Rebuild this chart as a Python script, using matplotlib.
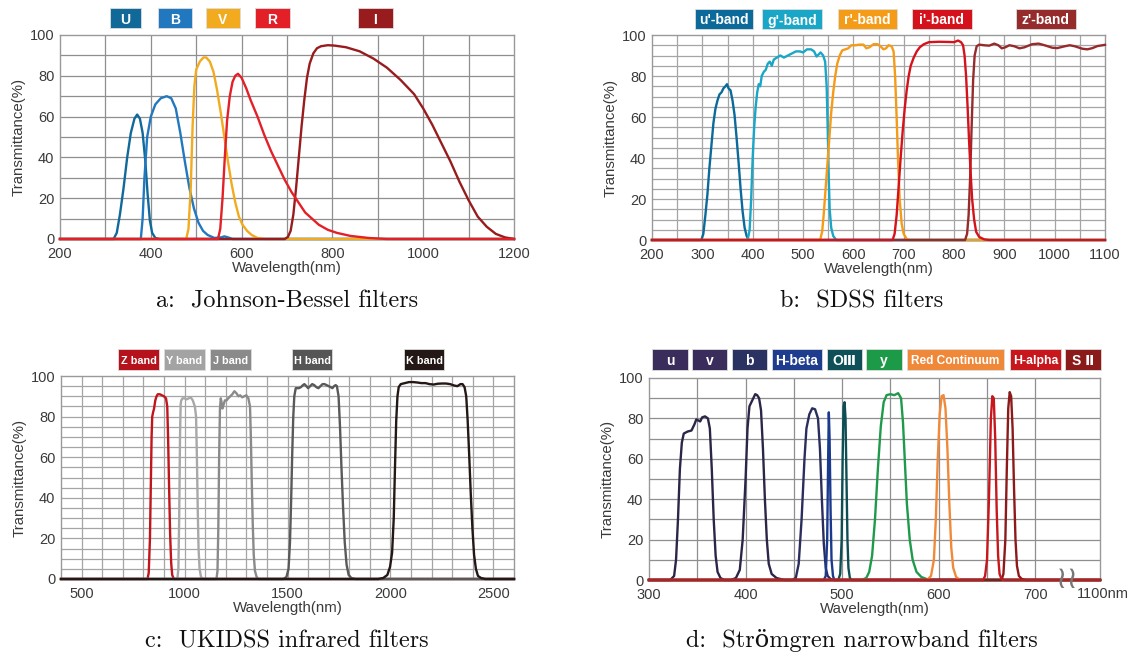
import matplotlib
matplotlib.use("Agg")
import matplotlib.pyplot as plt
from matplotlib.patches import Rectangle

# ---------------- DATA ----------------
# Panel a: Johnson-Bessel
a_names = ["U", "B", "V", "R", "I"]
a_U_wl = [200, 318, 325, 332, 340, 348, 356, 364, 370, 376, 382, 388, 393, 398, 403, 410, 420, 1200]
a_U_t = [0, 0, 3, 12, 25, 40, 52, 59, 61, 59, 52, 38, 22, 9, 3, 0.5, 0, 0]
a_B_wl = [200, 378, 382, 386, 392, 400, 410, 422, 435, 445, 455, 465, 475, 485, 495, 505, 515, 525, 540, 555, 562, 570, 580, 1200]
a_B_t = [0, 0, 10, 30, 50, 60, 66, 69, 70, 69, 64, 52, 38, 25, 15, 8, 4, 2, 0.5, 0.8, 1.3, 0.8, 0, 0]
a_V_wl = [200, 478, 483, 488, 492, 496, 500, 508, 516, 522, 530, 538, 546, 554, 562, 570, 578, 586, 594, 602, 612, 622, 635, 650, 1200]
a_V_t = [0, 0, 5, 25, 55, 75, 83, 87, 89, 89, 87, 82, 73, 62, 50, 38, 27, 18, 11, 7, 4, 2, 0.5, 0, 0]
a_R_wl = [200, 548, 553, 558, 563, 568, 574, 580, 586, 592, 600, 610, 620, 635, 650, 665, 680, 695, 710, 725, 740, 755, 770, 790, 810, 840, 880, 920, 1200]
a_R_t = [0, 0, 5, 20, 40, 58, 70, 77, 80, 81, 79, 74, 68, 60, 51, 43, 36, 29, 23, 18, 13, 10, 7, 4.5, 3, 1.5, 0.5, 0, 0]
a_I_wl = [200, 695, 702, 708, 714, 720, 726, 732, 738, 744, 750, 758, 766, 775, 790, 805, 830, 860, 890, 920, 950, 980, 1000, 1020, 1040, 1060, 1080, 1100, 1120, 1140, 1160, 1180, 1200]
a_I_t = [0, 0, 1, 4, 12, 25, 40, 55, 68, 79, 86, 91, 93.5, 94.5, 95, 94.8, 94, 92, 88.5, 84, 78, 71, 64, 56, 47, 38, 28, 19, 11, 6, 2.5, 0.8, 0]

# Panel b: SDSS
b_names = ["u'-band", "g'-band", "r'-band", "i'-band", "z'-band"]
b_u_wl = [200, 298, 302, 306, 310, 314, 318, 322, 326, 330, 334, 338, 342, 346, 349, 352, 356, 360, 364, 368, 372, 376, 380, 384, 388, 392, 1100]
b_u_t = [0, 0, 3, 12, 22, 35, 46, 57, 64, 68, 71, 72, 74, 75, 76, 74, 73, 68, 61, 50, 38, 25, 14, 6, 2, 0, 0]
b_g_wl = [200, 390, 394, 397, 400, 403, 406, 409, 412, 415, 418, 422, 426, 430, 434, 438, 442, 448, 455, 462, 470, 478, 486, 494, 500, 508, 516, 522, 527, 531, 535, 540, 544, 547, 549, 551, 553, 556, 560, 566, 1100]
b_g_t = [0, 0, 5, 20, 40, 55, 65, 72, 76, 75, 80, 82, 83, 86, 87, 85, 88, 89, 90, 89, 90, 91, 92, 92, 91.5, 93, 93, 92, 89.5, 90.5, 91.5, 90, 87, 75, 55, 32, 15, 6, 2, 0, 0]
b_r_wl = [200, 534, 538, 541, 544, 547, 550, 553, 556, 560, 564, 568, 573, 578, 584, 590, 596, 604, 612, 620, 626, 632, 640, 648, 654, 660, 665, 670, 676, 680, 683, 686, 689, 692, 696, 700, 706, 712, 1100]
b_r_t = [0, 0, 4, 12, 22, 32, 42, 52, 62, 72, 80, 86, 90, 92.5, 93, 93.5, 95, 95, 95.3, 95.3, 93.5, 94, 95.5, 95.5, 94.5, 93, 93.5, 95, 94.5, 92, 80, 60, 38, 20, 8, 3, 0.5, 0, 0]
b_i_wl = [200, 678, 682, 686, 690, 694, 698, 702, 706, 710, 714, 720, 726, 732, 740, 750, 770, 790, 800, 808, 814, 818, 821, 824, 827, 830, 833, 836, 840, 844, 850, 860, 870, 1100]
b_i_t = [0, 0, 3, 12, 26, 40, 53, 64, 73, 80, 85, 89, 92, 94, 95.5, 96.5, 96.7, 96.6, 96.5, 97.3, 96.5, 95, 90, 80, 65, 48, 33, 20, 10, 4, 1.5, 0.3, 0, 0]
b_z_wl = [200, 822, 826, 829, 832, 835, 838, 841, 845, 850, 860, 870, 880, 888, 895, 902, 910, 920, 930, 940, 955, 968, 980, 995, 1005, 1020, 1030, 1040, 1055, 1065, 1075, 1085, 1100]
b_z_t = [0, 0, 3, 12, 30, 55, 78, 90, 94.5, 95.3, 95, 94.8, 95.8, 95, 93.5, 94, 95, 94.5, 93.5, 94, 95.5, 95.8, 95, 93.8, 93.6, 94.5, 95, 94.5, 93.3, 93, 93.6, 94.6, 95.2]

# Panel c: UKIDSS
c_names = ["Z band", "Y band", "J band", "H band", "K band"]
c_Z_wl = [400, 820, 826, 832, 836, 840, 843, 847, 852, 858, 864, 870, 880, 890, 900, 910, 916, 920, 925, 930, 935, 940, 948, 2600]
c_Z_t = [0, 0, 3, 20, 45, 70, 80, 82, 84, 88, 90, 91, 91, 90.5, 90, 89, 85, 70, 45, 22, 8, 2, 0, 0]
c_Y_wl = [400, 965, 970, 974, 978, 981, 984, 990, 1000, 1010, 1020, 1030, 1040, 1050, 1056, 1060, 1064, 1068, 1073, 1080, 1090, 2600]
c_Y_t = [0, 0, 5, 30, 70, 86, 88, 89, 89, 88.5, 89, 89.5, 88, 85, 80, 60, 35, 15, 5, 1, 0, 0]
c_J_wl = [400, 1155, 1160, 1164, 1168, 1172, 1176, 1180, 1184, 1190, 1196, 1204, 1212, 1222, 1232, 1242, 1252, 1262, 1270, 1280, 1290, 1300, 1310, 1318, 1322, 1326, 1331, 1336, 1342, 1350, 1360, 2600]
c_J_t = [0, 0, 4, 25, 60, 84, 89, 87, 84, 86, 88, 88, 89, 90, 91, 92.5, 91.5, 90, 90.5, 89.5, 90, 90.5, 89, 85, 70, 50, 28, 12, 4, 1, 0, 0]
c_H_wl = [400, 1480, 1495, 1505, 1512, 1518, 1523, 1528, 1533, 1540, 1555, 1565, 1575, 1582, 1592, 1600, 1610, 1620, 1630, 1640, 1650, 1660, 1670, 1680, 1690, 1700, 1710, 1718, 1726, 1734, 1740, 1748, 1755, 1762, 1770, 1778, 1787, 1797, 1810, 1830, 2600]
c_H_t = [0, 0, 1, 5, 18, 40, 62, 80, 90, 94, 94, 94.5, 95.5, 96, 95, 94, 95, 96, 95.5, 94.5, 94, 95, 96, 96, 95.5, 95, 94.5, 94, 95, 95.5, 95, 90, 75, 55, 35, 18, 7, 2, 0.5, 0, 0]
c_K_wl = [400, 1940, 1965, 1985, 1998, 2008, 2016, 2022, 2028, 2034, 2040, 2050, 2070, 2090, 2110, 2130, 2150, 2170, 2190, 2210, 2230, 2250, 2270, 2290, 2310, 2325, 2340, 2350, 2360, 2368, 2375, 2382, 2390, 2398, 2406, 2415, 2425, 2440, 2460, 2600]
c_K_t = [0, 0, 0.5, 2, 6, 13, 30, 55, 78, 90, 94.5, 96, 96.5, 97, 97, 96.8, 96.5, 96.5, 96, 95.8, 96.2, 96.3, 96.3, 96, 95.3, 95, 96, 96, 94.5, 90, 78, 62, 42, 25, 12, 5, 1.5, 0.5, 0, 0]

# Panel d: Stromgren / narrowband
d_names = ["u", "v", "b", "H-beta", "OⅢ", "y", "Red Continuum", "H-alpha", "S Ⅱ"]
d_u_wl = [300, 322, 326, 328, 330, 332, 334, 336, 340, 344, 347, 349, 351, 353, 355, 358, 361, 363, 365, 367, 369, 371, 374, 378, 767]
d_u_t = [0, 0, 2, 10, 30, 55, 68, 72.5, 73.5, 74, 77, 79.5, 79, 78.5, 80.5, 81, 80, 75, 55, 30, 12, 4, 1, 0, 0]
d_v_wl = [300, 385, 390, 394, 397, 400, 402, 404, 406, 408, 410, 412, 414, 416, 418, 420, 422, 424, 427, 432, 440, 767]
d_v_t = [0, 0, 1, 5, 20, 50, 75, 86, 88, 90, 92, 91.5, 90, 84, 65, 40, 20, 8, 3, 1, 0, 0]
d_b_wl = [300, 448, 452, 455, 458, 461, 463, 466, 469, 472, 475, 477, 479, 481, 483, 485, 488, 492, 767]
d_b_t = [0, 0, 1, 8, 30, 60, 75, 82, 85, 84.5, 80, 65, 40, 18, 6, 2, 0.5, 0, 0]
d_hb_wl = [300, 481, 483, 484.5, 485.5, 486.2, 487, 488, 489, 490.5, 492, 767]
d_hb_t = [0, 0, 2, 20, 60, 83, 70, 35, 10, 2, 0, 0]
d_o3_wl = [300, 496, 498, 499.5, 500.5, 501.5, 502.5, 503.5, 504.5, 505.5, 506.5, 508, 510, 767]
d_o3_t = [0, 0, 3, 20, 60, 86, 88, 80, 50, 20, 6, 1, 0, 0]
d_y_wl = [300, 520, 525, 528, 531, 534, 537, 540, 543, 546, 550, 554, 558, 561, 563, 565, 567, 570, 573, 577, 582, 590, 767]
d_y_t = [0, 0, 1, 4, 12, 30, 55, 76, 88, 91.5, 92, 91.5, 92.5, 90, 78, 58, 38, 20, 10, 4, 1.5, 0, 0]
d_rc_wl = [300, 588, 592, 595, 597, 599, 601, 603, 605, 607, 609, 611, 613, 615, 618, 622, 767]
d_rc_t = [0, 0, 2, 10, 30, 60, 82, 91, 91.5, 85, 65, 38, 16, 6, 1.5, 0, 0]
d_ha_wl = [300, 646, 648, 650, 652, 654, 655.5, 657, 658.5, 660, 661.5, 663, 665, 668, 767]
d_ha_t = [0, 0, 2, 10, 40, 80, 91, 90, 70, 35, 12, 3, 0.5, 0, 0]
d_s2_wl = [300, 665, 667, 669, 670.5, 672, 673.5, 675, 676.5, 678, 679.5, 681, 683, 686, 690, 767]
d_s2_t = [0, 0, 3, 20, 55, 85, 93, 91, 75, 45, 20, 7, 2, 0.5, 0, 0]

captions = ["a:  Johnson-Bessel filters", "b:  SDSS filters",
            "c:  UKIDSS infrared filters", "d:  Strömgren narrowband filters"]
y_ticks = [0, 20, 40, 60, 80, 100]
a_x_ticks = [200, 400, 600, 800, 1000, 1200]
b_x_ticks = [200, 300, 400, 500, 600, 700, 800, 900, 1000, 1100]
c_x_ticks = [500, 1000, 1500, 2000, 2500]
d_x_ticks = [300, 400, 500, 600, 700]
d_far_label = "1100nm"

# ---------------- STYLE / LAYOUT ----------------
W, H = 1135, 658
SANS = ["Liberation Sans", "DejaVu Sans"]
plt.rcParams['font.family'] = SANS
fig = plt.figure(figsize=(W / 100, H / 100), dpi=100)


def box(l, r, t, b):
    return [l / W, 1 - b / H, (r - l) / W, (b - t) / H]


def setup(ax, xlim, xticks, xgrid, ygrid, gridc='#9a9a9a'):
    ax.set_xlim(*xlim)
    ax.set_ylim(0, 100)
    for v in xgrid:
        ax.axvline(v, color=gridc, lw=0.9, zorder=0)
    for v in ygrid:
        ax.axhline(v, color=gridc, lw=0.9, zorder=0)
    ax.set_yticks(y_ticks)
    ax.set_xticks(xticks)
    ax.tick_params(length=0, labelsize=10.5, labelcolor='#3a3a3a')
    ax.tick_params(axis='x', pad=6)
    ax.tick_params(axis='y', pad=4)
    for lab in ax.get_yticklabels():
        lab.set_verticalalignment('center_baseline')
    for s in ax.spines.values():
        s.set_color('#999999')
        s.set_linewidth(1.0)
    ax.set_ylabel("Transmittance(%)", fontsize=10.8, color='#3a3a3a', labelpad=3)
    ax.set_xlabel("Wavelength(nm)", fontsize=10.8, color='#3a3a3a', labelpad=0)


def legend(items, y0, y1, fs=9.5):
    for (lab, l, r, col) in items:
        fig.add_artist(Rectangle((l / W, 1 - y1 / H), (r - l) / W, (y1 - y0) / H,
                                 transform=fig.transFigure, facecolor=col,
                                 edgecolor='#dddddd', lw=0.6))
        fig.text((l + r) / 2 / W, 1 - (y0 + y1) / 2 / H, lab, color='white',
                 fontsize=fs, fontweight='bold', ha='center', va='center_baseline',
                 family=SANS)


LW = 1.7

# ---- Panel a ----
axa = fig.add_axes(box(60, 514, 35, 239))
setup(axa, (200, 1200), a_x_ticks, range(300, 1200, 100), range(10, 100, 10), '#8f8f8f')
a_cols = ['#11699a', '#2278bf', '#f2ab1e', '#e32027', '#981c1e']
a_data = [(a_U_wl, a_U_t), (a_B_wl, a_B_t), (a_V_wl, a_V_t), (a_R_wl, a_R_t), (a_I_wl, a_I_t)]
for i in [0, 1, 2, 4, 3]:
    axa.plot(a_data[i][0], a_data[i][1], color=a_cols[i], lw=LW, clip_on=False, zorder=3)
legend(list(zip(a_names, [110, 158, 206, 255, 358], [141, 192, 240, 290, 393], a_cols)), 8, 28, fs=10)

# ---- Panel b ----
axb = fig.add_axes(box(652, 1105, 35, 240))
setup(axb, (200, 1100), b_x_ticks, range(250, 1100, 50), range(5, 100, 5), '#a5a5a5')
b_cols = ['#0c6a9a', '#1aa6c6', '#f49b17', '#d5121b', '#962b2b']
b_data = [(b_u_wl, b_u_t), (b_g_wl, b_g_t), (b_r_wl, b_r_t), (b_i_wl, b_i_t), (b_z_wl, b_z_t)]
for i in [0, 1, 2, 4, 3]:
    axb.plot(b_data[i][0], b_data[i][1], color=b_cols[i], lw=LW, clip_on=False, zorder=3)
legend(list(zip(b_names, [695, 762, 838, 912, 1016], [753, 822, 897, 972, 1076], b_cols)), 9, 29, fs=10)

# ---- Panel c ----
axc = fig.add_axes(box(61, 514, 376, 579))
setup(axc, (400, 2600), c_x_ticks, range(500, 2600, 100), range(5, 100, 5), '#a5a5a5')
c_cols = ['#c0151c', '#a8a8a8', '#8a8a8a', '#595959', '#231815']
c_box = ['#b5121b', '#a3a3a3', '#8a8a8a', '#555555', '#231815']
c_data = [(c_Z_wl, c_Z_t), (c_Y_wl, c_Y_t), (c_J_wl, c_J_t), (c_H_wl, c_H_t), (c_K_wl, c_K_t)]
for i in range(5):
    axc.plot(c_data[i][0], c_data[i][1], color=c_cols[i], lw=LW, clip_on=False, zorder=3)
legend(list(zip(c_names, [118, 164, 210, 292, 404], [159, 205, 251, 332, 444], c_box)), 349, 370,
       fs=7.8)

# ---- Panel d ----
axd = fig.add_axes(box(649, 1100, 378, 580))
setup(axd, (300, 767), d_x_ticks, range(350, 701, 50), range(10, 100, 10), '#8f8f8f')
d_cols = ['#2d2548', '#2d2548', '#2b2d5c', '#1b3a8e', '#0d4e55', '#1f9a4b', '#f08a3a', '#c8161d', '#8d1a1a']
d_box = ['#3b2d5b', '#3b2d5b', '#2a3262', '#1f3d8f', '#0f5058', '#1c9a48', '#f0883a', '#c8161d', '#8b1a1a']
d_data = [(d_u_wl, d_u_t), (d_v_wl, d_v_t), (d_b_wl, d_b_t), (d_hb_wl, d_hb_t), (d_o3_wl, d_o3_t),
          (d_y_wl, d_y_t), (d_rc_wl, d_rc_t), (d_s2_wl, d_s2_t), (d_ha_wl, d_ha_t)]
d_order_cols = d_cols[:7] + [d_cols[8], d_cols[7]]
for (wl, t), col in zip(d_data, d_order_cols):
    axd.plot(wl, t, color=col, lw=LW, clip_on=False, zorder=3)
axd.text(733, 0, "≀≀", fontsize=22, color='#777777', ha='center', va='center',
         family=['DejaVu Sans'], clip_on=False, zorder=5)
axd.text(743.5, -3.4, d_far_label, fontsize=10.5, color='#3a3a3a', ha='left', va='top',
         family=SANS, clip_on=False)
d_fs = [10, 10, 10, 10, 10, 10, 8.6, 8.8, 10]
for i, (lab, l, r, col) in enumerate(zip(d_names,
                                         [652, 692, 732, 772, 827, 866, 907, 1010, 1065],
                                         [688, 727, 767, 822, 862, 902, 1004, 1061, 1101], d_box)):
    legend([(lab, l, r, col)], 349, 370, fs=d_fs[i])

# ---- captions ----
SERIF = ['cmr10', 'DejaVu Serif']
for cap, (cx, cy) in zip(captions, [(287, 301), (862, 301), (287, 641), (862, 641)]):
    fig.text(cx / W, 1 - cy / H, cap, fontsize=17.5, ha='center', va='center', family=SERIF,
             color='#111111')

fig.savefig("out.png", dpi=100)
